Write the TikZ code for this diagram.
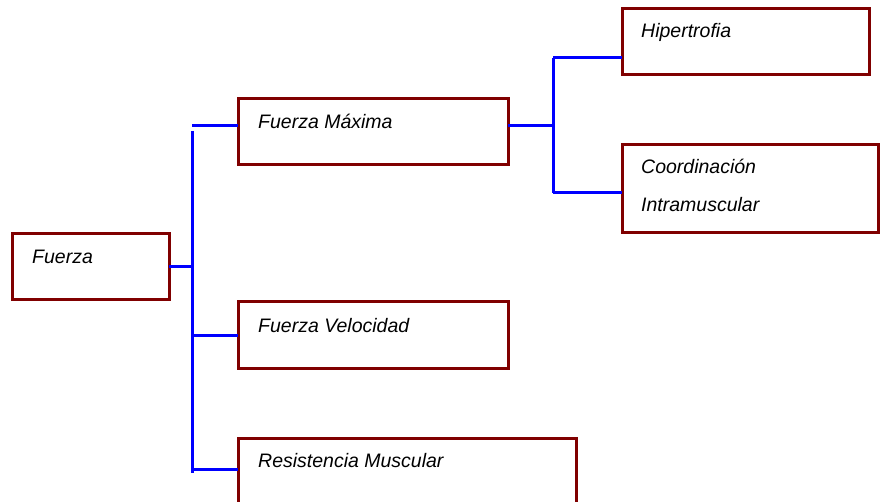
\documentclass[tikz,border=0pt]{standalone}
\usepackage{fontspec}
\setmainfont{Liberation Sans}
\begin{document}
\begin{tikzpicture}[x=1pt,y=-1pt,
  box/.style={draw=boxred, line width=3pt, rectangle, inner sep=0pt, outer sep=0pt, anchor=north west},
  label/.style={anchor=base west, inner sep=0pt, align=left,
    font=\fontsize{19.5}{38}\selectfont\itshape},
  link/.style={draw=linkblue, line width=3pt}]
\definecolor{boxred}{RGB}{128,0,0}
\definecolor{linkblue}{RGB}{0,0,255}
\useasboundingbox (0,0) rectangle (880,502);
\clip (0,0) rectangle (880,502);

% boxes
\node[box, minimum width=157, minimum height=66] (f)  at (12,234) {};
\node[box, minimum width=270, minimum height=66] (fm) at (238,99) {};
\node[box, minimum width=270, minimum height=66] (fv) at (238,302) {};
\node[box, minimum width=338, minimum height=92] (rm) at (238,438) {};
\node[box, minimum width=247, minimum height=66] (hi) at (622,9) {};
\node[box, minimum width=256.5, minimum height=88] (co) at (622,145) {};

% texts (base of a two-line label is its last line)
\node[label] (tf)  at ([shift={(20,30)}]f.north west)  {Fuerza};
\node[label] (tfm) at ([shift={(20,30)}]fm.north west) {Fuerza Máxima};
\node[label] (tfv) at ([shift={(20,30)}]fv.north west) {Fuerza Velocidad};
\node[label] (trm) at ([shift={(20,29)}]rm.north west) {Resistencia Muscular};
\node[label] (thi) at ([shift={(19,29)}]hi.north west) {Hipertrofia};
\node[label] (tco) at ([shift={(19,67)}]co.north west) {Coordinación\\Intramuscular};

% left tree
\coordinate (a0) at (192,267);
\coordinate (a1) at (192,126);
\coordinate (a1b) at (192,131);
\coordinate (a2) at (192,335);
\coordinate (a3) at (192,469);
\coordinate (aend) at (192,473);
\draw[link] (f.east) -- (f.east -| a0);
\draw[link] (a1b) -- (aend);
\draw[link] (a1) -- (a1 -| fm.west);
\draw[link] (a2) -- (a2 -| fv.west);
\draw[link] (a3) -- (a3 -| rm.west);

% right tree
\coordinate (b0) at (553,126);
\coordinate (b1) at (553,58);
\coordinate (b2) at (553,193);
\draw[link] (b0 -| fm.east) -- (b0);
\draw[link] (b1) -- (b2);
\draw[link] (b1) -- (b1 -| hi.west);
\draw[link] (b2) -- (b2 -| co.west);
\end{tikzpicture}
\end{document}
